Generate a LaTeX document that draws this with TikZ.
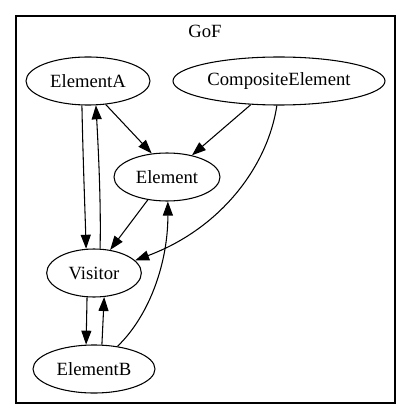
\documentclass[tikz,border=0pt]{standalone}
\usepackage{fontspec}
\setmainfont{Liberation Serif}
\usetikzlibrary{arrows.meta, shapes.geometric}

\begin{document}
\begin{tikzpicture}[
  x=0.75pt, y=-0.75pt,
  elem/.style = {ellipse, draw, line width=0.8pt, inner sep=0pt, minimum height=36pt, font=\fontsize{14}{16}\selectfont},
  arrow/.style = {-{Triangle[length=10.5pt, width=7.5pt]}, line width=0.8pt},
  cluster/.style = {draw, line width=0.8pt}
]

\useasboundingbox (0,0) rectangle (411,420);
\draw[cluster] (16,16) rectangle (395,403);
\node[font=\fontsize{14}{16}\selectfont] (gof) at (205,31) {GoF};

\node[elem, minimum width=93pt] (elementA) at (88,81) {ElementA};
\node[elem, minimum width=159pt] (composite) at (279,81) {CompositeElement};
\node[elem, minimum width=79.5pt] (element) at (167,177) {Element};
\node[elem, minimum width=71pt] (visitor) at (94,273) {Visitor};
\node[elem, minimum width=91.5pt] (elementB) at (94,369) {ElementB};

\draw[arrow] (elementA.307) -- (element.123);
\draw[arrow] (composite.220) -- (element.41);
\draw[arrow] (composite.265) .. controls (268,165) and (222,228) .. (visitor.17);
\draw[arrow] (elementA.256) .. controls (83,160) and (85,210) .. (visitor.108);
\draw[arrow] (visitor.76) .. controls (101,210) and (99,160) .. (elementA.288);
\draw[arrow] (element.230) -- (visitor.55);
\draw[arrow] (visitor.254) -- (elementB.108);
\draw[arrow] (elementB.72) -- (visitor.293);
\draw[arrow] (elementB.44) .. controls (150,315) and (168,262) .. (element.272);

\end{tikzpicture}
\end{document}
